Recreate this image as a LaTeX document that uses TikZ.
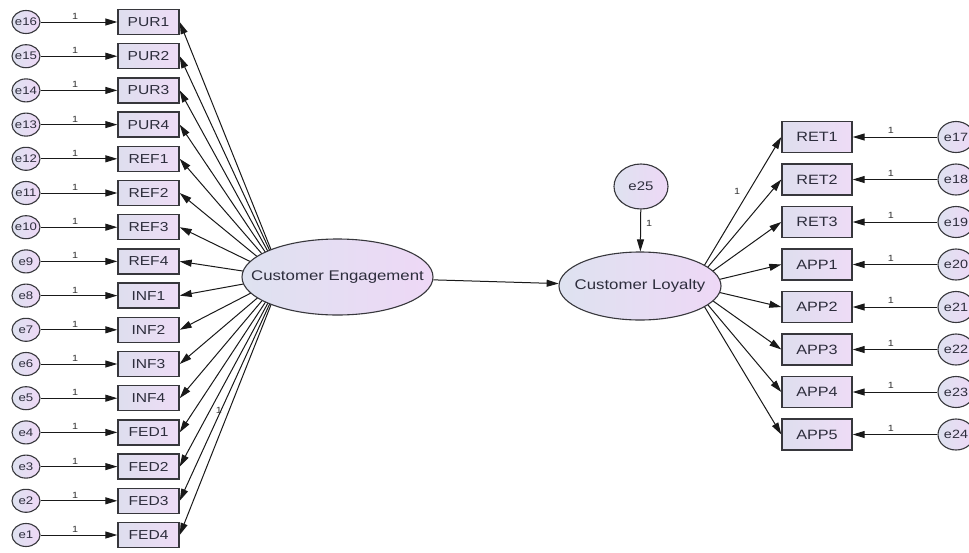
\documentclass[tikz,border=0pt]{standalone}
\usepackage{fontspec}
\setmainfont[FakeStretch=1.2]{Liberation Sans}
\usetikzlibrary{arrows.meta,shapes.geometric}
\pgfdeclarelayer{bg}
\pgfsetlayers{bg,main}
\definecolor{bordc}{RGB}{55,55,60}
\definecolor{boxl}{RGB}{222,222,238}
\definecolor{boxr}{RGB}{238,220,246}
\definecolor{ell}{RGB}{222,226,240}
\definecolor{elr}{RGB}{238,216,246}
\definecolor{txt}{RGB}{45,45,60}
\tikzset{
  lbox/.style={draw=bordc,line width=1.4pt,left color=boxl,right color=boxr,minimum width=61pt,minimum height=25pt,inner sep=0pt,font=\fontsize{13}{13}\selectfont,text=txt},
  rbox/.style={draw=bordc,line width=1.4pt,left color=boxl,right color=boxr,minimum width=70pt,minimum height=31pt,inner sep=0pt,font=\fontsize{13.5}{13.5}\selectfont,text=txt},
  shp/.style={ellipse,draw=bordc,line width=1.1pt,left color=ell,right color=elr,inner sep=0pt},
  lerr/.style={shp,minimum width=28pt,minimum height=23pt},
  rerr/.style={shp,minimum width=36pt,minimum height=31pt},
  etext/.style={inner sep=0pt,text=txt},
  arr/.style={draw=black!90,line width=1pt,-{Triangle[length=12pt,width=7pt]}},
  one/.style={font=\fontsize{9}{9}\selectfont,text=black!80,inner sep=1pt}
}
\begin{document}
\begin{tikzpicture}[x=1pt,y=-1pt]
\clip (0,0) rectangle (969,552);
\begin{pgfonlayer}{bg}
  \fill[white] (0,0) rectangle (969,552);
\end{pgfonlayer}
% latent variables
\node[shp,minimum width=191pt,minimum height=76pt] (CE) at (337.5,277) {};
\node[etext,font=\fontsize{14}{14}\selectfont] (tCE) at (CE) {Customer Engagement};
\coordinate (ceF) at (282,277);
\node[shp,minimum width=162pt,minimum height=68pt] (CL) at (640,286) {};
\node[etext,font=\fontsize{14}{14}\selectfont] (tCL) at (CL) {Customer Loyalty};
\coordinate (clF) at (692,286);
\node[shp,minimum width=54pt,minimum height=45pt] (e25) at (641,186.5) {};
\node[etext,font=\fontsize{12.5}{12.5}\selectfont] (te25) at (e25) {e25};
\draw[arr] (e25) -- (CL);
\node[one] (o25) at (649,223) {1};
\draw[arr] (CE) -- (CL);
% left indicators
\foreach \t [count=\i] in {PUR1,PUR2,PUR3,PUR4,REF1,REF2,REF3,REF4,INF1,INF2,INF3,INF4,FED1,FED2,FED3,FED4} {
  \pgfmathsetmacro\yy{22+(\i-1)*34.2}
  \pgfmathtruncatemacro\ee{17-\i}
  \node[lbox] (L\i) at (148.5,\yy) {\t};
  \node[lerr] (eL\i) at (26,\yy) {};
  \node[etext,font=\fontsize{11}{11}\selectfont] (teL\i) at (eL\i) {e\ee};
  \draw[arr] (eL\i) -- node[one,above=1pt,pos=0.45] {1} (L\i);
  \begin{pgfonlayer}{bg}
    \draw[arr] (ceF) -- (L\i.east);
  \end{pgfonlayer}
}
\node[one] (oL) at (219,410) {1};
% right indicators
\foreach \t [count=\i] in {RET1,RET2,RET3,APP1,APP2,APP3,APP4,APP5} {
  \pgfmathsetmacro\yy{137+(\i-1)*42.5}
  \pgfmathtruncatemacro\ee{16+\i}
  \node[rbox] (R\i) at (817,\yy) {\t};
  \node[rerr] (eR\i) at (956,\yy) {};
  \node[etext,font=\fontsize{12}{12}\selectfont] (teR\i) at (eR\i) {e\ee};
  \draw[arr] (eR\i) -- node[one,above=2pt,pos=0.55] {1} (R\i);
  \begin{pgfonlayer}{bg}
    \draw[arr] (clF) -- (R\i.west);
  \end{pgfonlayer}
}
\node[one] (oR) at (737,191) {1};
\end{tikzpicture}
\end{document}
